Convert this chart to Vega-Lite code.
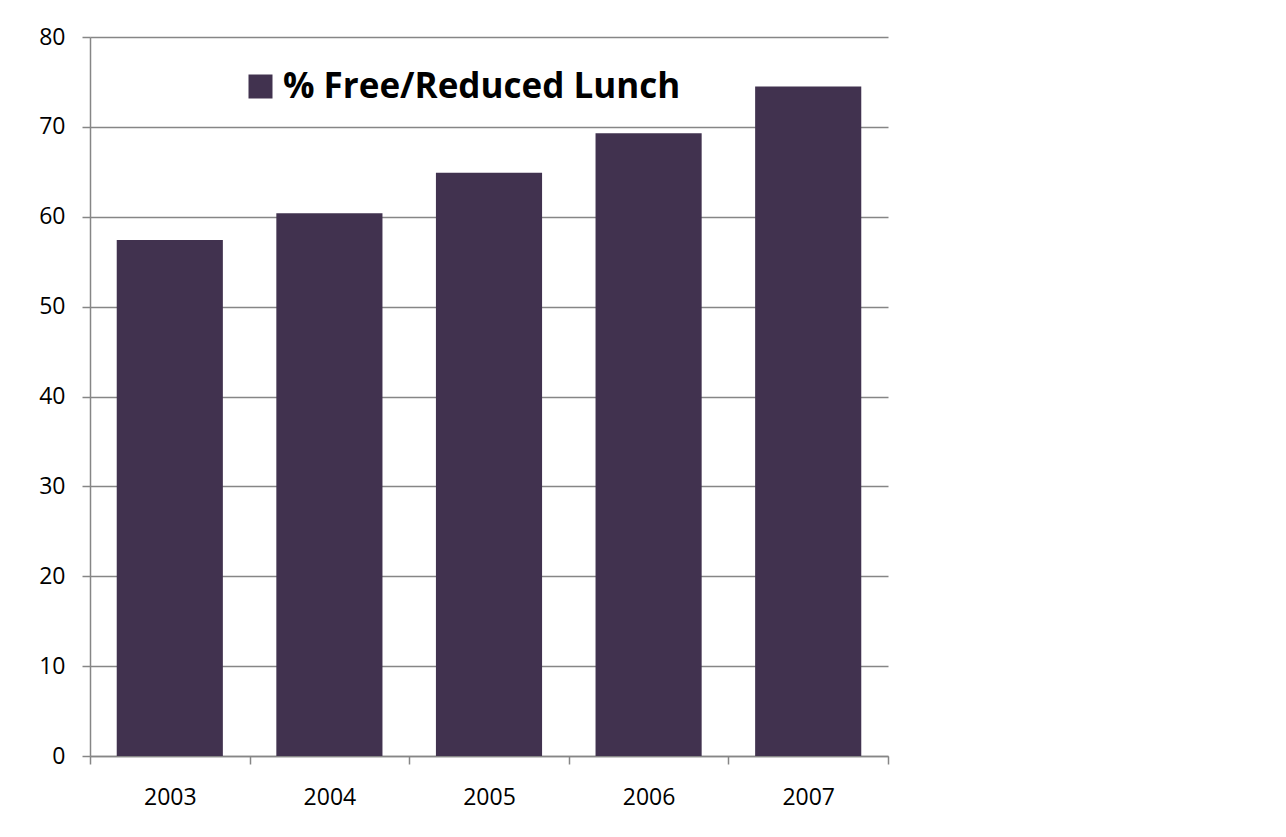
{
  "$schema": "https://vega.github.io/schema/vega-lite/v6.json",
  "width": 798,
  "height": 719,
  "autosize": {"type": "none"},
  "padding": {"left": 90, "top": 37, "right": 398, "bottom": 81},
  "background": "white",
  "config": {
    "view": {"stroke": null},
    "font": "Open Sans",
    "axis": {
      "domainColor": "#868686",
      "domainWidth": 1.5,
      "tickColor": "#868686",
      "tickWidth": 1.5,
      "tickSize": 8,
      "gridColor": "#868686",
      "gridWidth": 1.5,
      "labelColor": "#000000",
      "labelFont": "Open Sans",
      "labelFontSize": 23,
      "title": null
    }
  },
  "data": {
    "values": [
      {"year": "2003", "value": 57.4, "series": "% Free/Reduced Lunch"},
      {"year": "2004", "value": 60.4, "series": "% Free/Reduced Lunch"},
      {"year": "2005", "value": 64.9, "series": "% Free/Reduced Lunch"},
      {"year": "2006", "value": 69.3, "series": "% Free/Reduced Lunch"},
      {"year": "2007", "value": 74.5, "series": "% Free/Reduced Lunch"}
    ]
  },
  "mark": {"type": "bar", "width": {"band": 0.665}},
  "encoding": {
    "x": {
      "field": "year",
      "type": "ordinal",
      "scale": {"paddingInner": 0, "paddingOuter": 0},
      "axis": {"labelAngle": 0, "tickBand": "extent", "grid": false, "labelPadding": 22}
    },
    "y": {
      "field": "value",
      "type": "quantitative",
      "scale": {"domain": [0, 80], "nice": false},
      "axis": {"values": [0, 10, 20, 30, 40, 50, 60, 70, 80], "grid": true, "labelPadding": 17}
    },
    "color": {
      "field": "series",
      "type": "nominal",
      "scale": {"range": ["#41324F"]},
      "legend": {
        "title": null,
        "orient": "none",
        "legendX": 153,
        "legendY": 32,
        "padding": 0,
        "symbolType": "square",
        "symbolSize": 576,
        "symbolStrokeWidth": 0,
        "labelFont": "Open Sans",
        "labelFontSize": 35,
        "labelFontWeight": "bold",
        "labelColor": "#000000",
        "labelOffset": 5,
        "labelLimit": 600
      }
    }
  }
}
